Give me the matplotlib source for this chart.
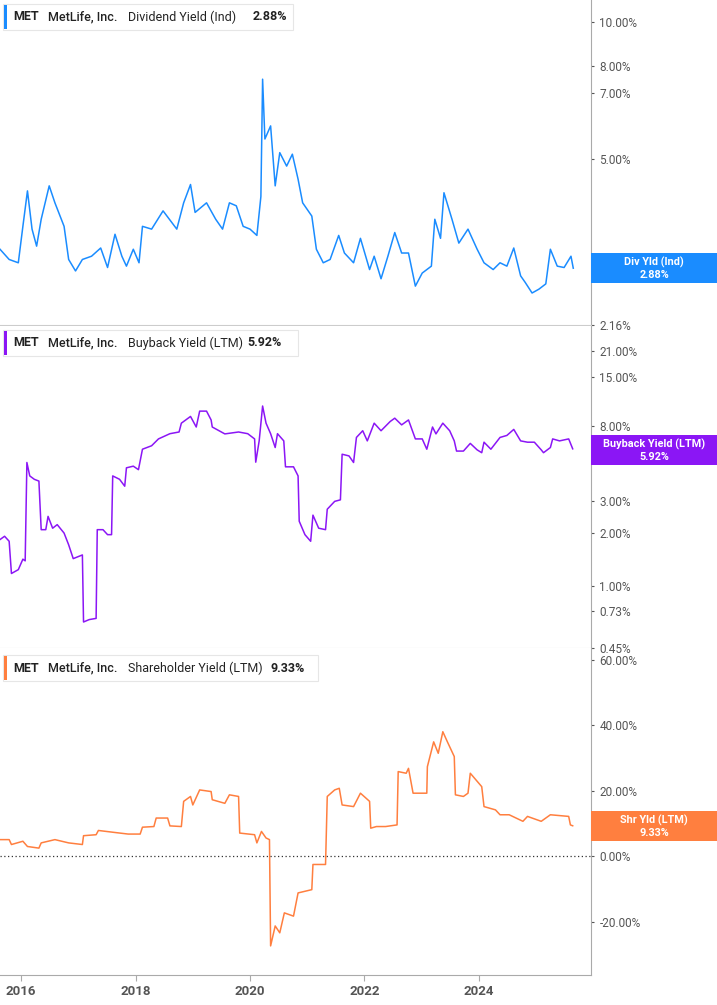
import matplotlib
matplotlib.use("Agg")
import matplotlib.pyplot as plt
from matplotlib.patches import Rectangle
from matplotlib.ticker import FixedLocator, NullLocator

plt.rcParams["font.family"] = "Roboto"

div_t = [2015.63,2015.79,2015.95,2016.03,2016.11,2016.19,2016.27,2016.35,2016.49,2016.59,2016.75,2016.83,2016.95,
         2017.07,2017.23,2017.39,2017.51,2017.64,2017.76,2017.84,2017.96,2018.06,2018.12,2018.28,2018.48,2018.72,
         2018.84,2018.96,2019.04,2019.24,2019.40,2019.52,2019.64,2019.76,2019.88,2020.00,2020.12,2020.19,2020.22,
         2020.26,2020.36,2020.44,2020.52,2020.64,2020.74,2020.84,2020.92,2021.08,2021.16,2021.28,2021.40,2021.55,
         2021.65,2021.81,2021.93,2022.09,2022.17,2022.29,2022.41,2022.53,2022.65,2022.77,2022.89,2023.01,2023.17,
         2023.23,2023.33,2023.39,2023.53,2023.65,2023.81,2023.97,2024.09,2024.25,2024.37,2024.49,2024.61,2024.73,
         2024.81,2024.93,2025.05,2025.17,2025.25,2025.37,2025.49,2025.61,2025.65]
div_v = [3.17,3.01,2.96,3.56,4.26,3.51,3.22,3.69,4.37,4.01,3.56,3.01,2.84,3.01,3.06,3.19,2.89,3.42,3.06,2.91,3.17,
         2.96,3.56,3.51,3.85,3.51,4.01,4.40,3.82,4.01,3.69,3.51,4.01,3.95,3.56,3.51,3.40,4.14,7.50,5.54,5.92,4.37,
         5.17,4.83,5.13,4.52,4.01,3.75,3.17,2.96,3.01,3.40,3.11,2.96,3.35,2.86,3.06,2.73,3.06,3.45,3.11,3.11,2.63,
         2.81,2.91,3.69,3.35,4.22,3.69,3.27,3.51,3.17,2.96,2.86,2.96,2.91,3.19,2.77,2.68,2.54,2.59,2.66,3.17,2.91,
         2.89,3.06,2.88]

bb_t = [2015.63,2015.71,2015.79,2015.83,2015.95,2016.03,2016.07,2016.10,2016.15,2016.23,2016.31,2016.35,2016.43,
        2016.47,2016.55,2016.63,2016.75,2016.83,2016.91,2017.07,2017.09,2017.19,2017.31,2017.33,2017.43,2017.51,
        2017.58,2017.60,2017.72,2017.81,2017.84,2017.96,2018.05,2018.12,2018.28,2018.40,2018.60,2018.76,2018.80,
        2018.96,2019.06,2019.12,2019.24,2019.32,2019.34,2019.56,2019.80,2019.96,2020.08,2020.10,2020.16,2020.22,
        2020.28,2020.36,2020.44,2020.48,2020.59,2020.62,2020.76,2020.84,2020.86,2020.96,2021.06,2021.10,2021.20,
        2021.32,2021.35,2021.48,2021.58,2021.61,2021.73,2021.81,2021.86,2021.97,2022.05,2022.17,2022.29,2022.45,
        2022.53,2022.65,2022.77,2022.89,2023.01,2023.09,2023.19,2023.25,2023.37,2023.49,2023.57,2023.61,2023.73,
        2023.85,2023.97,2024.05,2024.09,2024.21,2024.37,2024.49,2024.61,2024.73,2024.85,2024.97,2025.09,2025.13,
        2025.25,2025.29,2025.41,2025.57,2025.64]
bb_v = [1.83,1.91,1.79,1.18,1.24,1.42,1.39,4.96,4.17,3.99,3.90,2.08,2.08,2.47,2.12,2.22,1.99,1.71,1.43,1.50,0.63,
        0.65,0.66,2.08,2.08,1.95,1.95,4.17,3.99,3.65,4.63,4.73,4.52,5.89,6.16,6.73,7.20,7.36,8.25,9.00,7.85,9.64,
        9.64,8.60,7.85,7.18,7.36,7.20,6.73,4.98,6.56,10.3,8.25,7.20,6.02,7.20,6.56,4.69,4.69,4.17,2.32,1.95,1.79,
        2.51,2.12,2.08,2.71,3.00,3.06,5.52,5.40,4.96,6.86,7.48,6.56,8.25,7.48,8.43,8.80,8.07,8.60,6.73,6.73,5.89,
        7.85,7.18,8.25,7.48,6.56,5.75,5.75,6.35,5.84,5.63,6.45,5.89,6.86,7.04,7.61,6.56,6.45,6.45,5.84,5.63,6.02,
        6.73,6.56,6.73,5.92]

sh_t = [2015.63,2015.79,2015.83,2016.03,2016.11,2016.31,2016.35,2016.59,2016.83,2017.07,2017.09,2017.31,2017.35,
        2017.63,2017.87,2018.08,2018.12,2018.32,2018.36,2018.56,2018.60,2018.80,2018.84,2018.96,2019.00,2019.12,
        2019.32,2019.34,2019.56,2019.64,2019.80,2019.82,2020.08,2020.12,2020.20,2020.28,2020.34,2020.36,2020.44,
        2020.52,2020.60,2020.76,2020.84,2021.08,2021.10,2021.32,2021.35,2021.48,2021.56,2021.61,2021.81,2021.93,
        2022.09,2022.11,2022.21,2022.37,2022.57,2022.59,2022.73,2022.77,2022.85,2023.09,2023.10,2023.21,2023.29,
        2023.37,2023.45,2023.57,2023.59,2023.73,2023.81,2023.85,2024.05,2024.09,2024.29,2024.37,2024.53,2024.77,
        2024.85,2025.09,2025.25,2025.57,2025.60,2025.64]
sh_v = [5.1,5.1,3.6,4.6,3.0,2.5,4.1,5.1,4.1,3.6,6.3,6.6,7.9,7.3,6.8,6.8,8.9,9.1,11.7,11.7,9.3,9.1,16.8,18.3,15.7,
        20.3,19.8,17.3,16.2,18.8,18.3,7.1,6.6,4.1,7.6,5.6,5.1,-27.4,-21.3,-23.4,-17.3,-18.3,-11.2,-10.2,-2.5,-2.5,
        18.3,20.3,20.8,15.7,15.2,19.3,16.8,8.6,9.1,9.1,9.6,25.9,25.4,26.9,19.3,19.3,27.4,35.0,31.5,38.1,35.0,30.5,
        18.8,18.3,19.3,25.4,21.3,15.2,14.2,12.7,12.7,10.7,12.2,10.7,12.7,12.2,9.6,9.33]

year_ticks = [2016, 2018, 2020, 2022, 2024]
div_ticks = [2.16, 3.00, 5.00, 7.00, 8.00, 10.00]
bb_ticks = [0.45, 0.73, 1.00, 2.00, 3.00, 8.00, 15.00, 21.00]
sh_ticks = [-20, 0, 20, 40, 60]

W, H = 717, 1005
fig = plt.figure(figsize=(W/100, H/100), dpi=100)
X0, X1 = 2015.63, 2025.96
grey = "#555555"
spine = "#aaaaaa"

def mk(top, bot):
    ax = fig.add_axes([0, 1-bot/H, 591/W, (bot-top)/H])
    ax.set_xlim(X0, X1)
    for s in ["left", "top"]:
        ax.spines[s].set_visible(False)
    ax.spines["right"].set_color(spine)
    ax.spines["bottom"].set_color("#cccccc")
    ax.yaxis.tick_right()
    ax.tick_params(axis="y", colors=grey, labelsize=8.5, length=2, pad=4, labelcolor=grey)
    ax.xaxis.set_major_locator(FixedLocator(year_ticks))
    ax.tick_params(axis="x", length=4, colors=spine, labelcolor=grey, labelsize=9.5)
    ax.yaxis.set_minor_locator(NullLocator())
    return ax

ax1 = mk(0, 325)
ax1.set_yscale("log")
ax1.set_ylim(2.16, 11.2)
ax1.plot(div_t, div_v, color="#1a8cff", lw=1.1)
ax1.yaxis.set_major_locator(FixedLocator(div_ticks))
ax1.yaxis.set_minor_locator(NullLocator())
ax1.set_yticklabels([f"{v:.2f}%" for v in div_ticks])
ax1.set_xticklabels([])
ax1.tick_params(axis="x", length=0)

ax2 = mk(326, 648)
ax2.set_yscale("log")
ax2.set_ylim(0.45, 29)
ax2.plot(bb_t, bb_v, color="#8b16f5", lw=1.1)
ax2.yaxis.set_major_locator(FixedLocator(bb_ticks))
ax2.yaxis.set_minor_locator(NullLocator())
ax2.set_yticklabels([f"{v:.2f}%" for v in bb_ticks])
ax2.set_xticklabels([])
ax2.tick_params(axis="x", length=0)

ax3 = mk(648, 975)
ax3.set_ylim(-36.3, 63.7)
ax3.plot(sh_t, sh_v, color="#ff7f3f", lw=1.1)
ax3.axhline(0, color="#333333", lw=0.9, ls=(0, (1, 2)))
ax3.yaxis.set_major_locator(FixedLocator(sh_ticks))
ax3.set_yticklabels([f"{v:.2f}%" for v in sh_ticks])
ax3.set_xticklabels([str(y) for y in year_ticks], fontweight="bold")
ax3.spines["bottom"].set_color(spine)

def legend(y0, color, name, val, width):
    fig.patches.append(Rectangle((3/W, 1-(y0+26)/H), width/W, 26/H, transform=fig.transFigure,
                                 facecolor="white", edgecolor="#e6e6e6", lw=0.8, zorder=5))
    fig.patches.append(Rectangle((4/W, 1-(y0+25)/H), 2.5/W, 24/H, transform=fig.transFigure,
                                 facecolor=color, edgecolor="none", zorder=6))
    yc = 1-(y0+13)/H
    kw = dict(va="center", fontsize=9, color="#222222", zorder=7)
    fig.text(13/W, yc, "MET", fontweight="bold", **kw)
    fig.text(48/W, yc, "MetLife, Inc.", fontweight="medium", **kw)
    fig.text(128/W, yc, name, **kw)
    fig.text((128+len(name)*5.85+8)/W, yc, val, fontweight="bold", **kw)

legend(4, "#1a8cff", "Dividend Yield (Ind)", "2.88%", 290)
legend(330, "#8b16f5", "Buyback Yield (LTM)", "5.92%", 295)
legend(655, "#ff7f3f", "Shareholder Yield (LTM)", "9.33%", 315)

def vbox(y0, y1, color, l1, l2):
    fig.patches.append(Rectangle((591/W, 1-y1/H), 126/W, (y1-y0)/H, transform=fig.transFigure,
                                 facecolor=color, edgecolor="none", zorder=5))
    xc = 654/W
    fig.text(xc, 1-(y0+(y1-y0)*0.3)/H, l1, ha="center", va="center", color="white",
             fontsize=7.8, fontweight="bold", zorder=6)
    fig.text(xc, 1-(y0+(y1-y0)*0.72)/H, l2, ha="center", va="center", color="white",
             fontsize=7.8, fontweight="bold", zorder=6)

vbox(253, 283, "#1a8cff", "Div Yld (Ind)", "2.88%")
vbox(435, 465, "#8b16f5", "Buyback Yield (LTM)", "5.92%")
vbox(811, 841, "#ff7f3f", "Shr Yld (LTM)", "9.33%")

fig.savefig("out.png", dpi=100)
